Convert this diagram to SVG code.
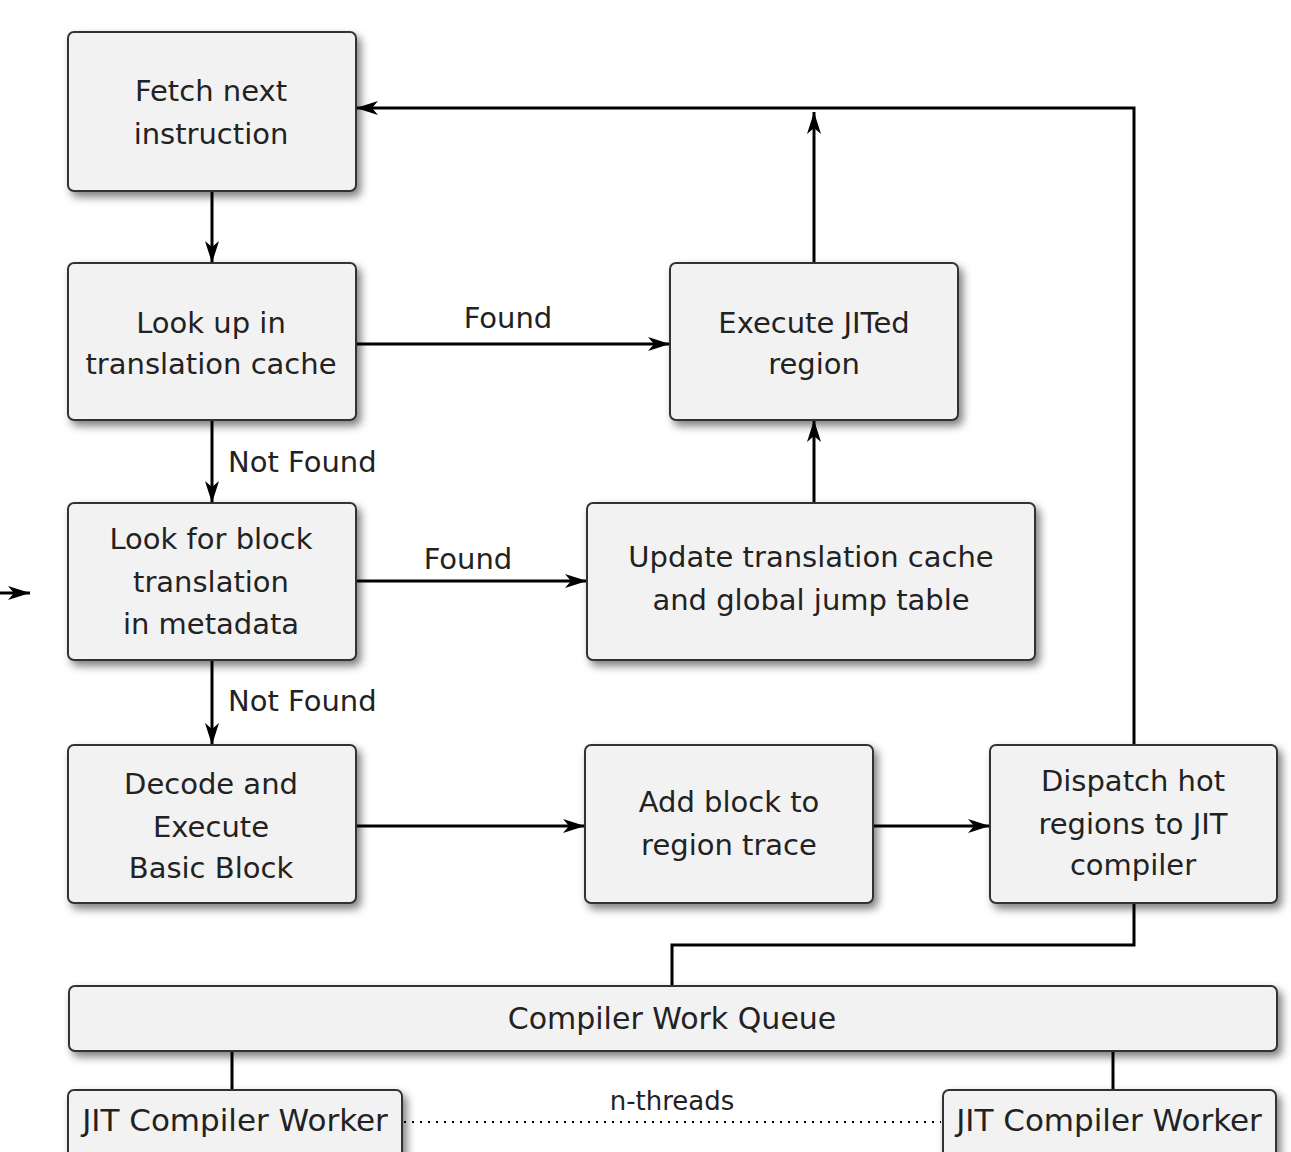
<svg xmlns="http://www.w3.org/2000/svg" width="1291" height="1152" viewBox="0 0 1291 1152">
<defs>
<filter id="sh" x="-10%" y="-10%" width="130%" height="140%">
<feDropShadow dx="4" dy="5" stdDeviation="4" flood-color="#000" flood-opacity="0.5"/>
</filter>
<marker id="ah" markerWidth="24" markerHeight="14" refX="22" refY="7" orient="auto" markerUnits="userSpaceOnUse">
<path d="M0,0 L22,7 L0,14 L6,7 Z" fill="#000"/>
</marker>
</defs>
<style>
.box{fill:#f2f2f2;stroke:#333;stroke-width:2;filter:url(#sh)}
text{font-family:"DejaVu Sans","Liberation Sans",sans-serif;font-size:29px;fill:#222;text-anchor:middle}
.lbl{text-anchor:start}
.c{fill:none;stroke:#000;stroke-width:3}
.a{marker-end:url(#ah)}
</style>
<rect width="1291" height="1152" fill="#fff"/>
<g id="connectors">
<path class="c a" d="M212,191 V263"/>
<path class="c a" d="M356,344 H670"/>
<path class="c a" d="M212,420 V503"/>
<path class="c a" d="M356,581 H587"/>
<path class="c a" d="M212,660 V745"/>
<path class="c a" d="M356,826 H585"/>
<path class="c a" d="M873,826 H990"/>
<path class="c a" d="M814,503 V420"/>
<path class="c a" d="M814,263 V112"/>
<path class="c a" d="M1134,745 V108 H356"/>
<path class="c" d="M1134,903 V945 H672 V986"/>
<path class="c" d="M232,1051 V1090"/>
<path class="c" d="M1113,1051 V1090"/>
<path class="c a" d="M0,593 H30"/>
<path d="M404,1122 H941" fill="none" stroke="#000" stroke-width="2" stroke-dasharray="2,6"/>
<text x="508" y="328">Found</text>
<text x="468" y="569">Found</text>
<text class="lbl" x="228" y="472">Not Found</text>
<text class="lbl" x="228" y="711">Not Found</text>
<text x="672" y="1110" style="font-size:26px">n-threads</text>
</g>
<g id="fetch"><rect class="box" x="68" y="32" width="288" height="159" rx="6"/><text x="211" y="101">Fetch next</text><text x="211" y="144">instruction</text></g>
<g id="lookup"><rect class="box" x="68" y="263" width="288" height="157" rx="6"/><text x="211" y="333">Look up in</text><text x="211" y="374">translation cache</text></g>
<g id="lookfor"><rect class="box" x="68" y="503" width="288" height="157" rx="6"/><text x="211" y="549">Look for block</text><text x="211" y="592">translation</text><text x="211" y="634">in metadata</text></g>
<g id="decode"><rect class="box" x="68" y="745" width="288" height="158" rx="6"/><text x="211" y="794">Decode and</text><text x="211" y="837">Execute</text><text x="211" y="878">Basic Block</text></g>
<g id="execute"><rect class="box" x="670" y="263" width="288" height="157" rx="6"/><text x="814" y="333">Execute JITed</text><text x="814" y="374">region</text></g>
<g id="update"><rect class="box" x="587" y="503" width="448" height="157" rx="6"/><text x="811" y="567">Update translation cache</text><text x="811" y="610">and global jump table</text></g>
<g id="addblock"><rect class="box" x="585" y="745" width="288" height="158" rx="6"/><text x="729" y="812">Add block to</text><text x="729" y="855">region trace</text></g>
<g id="dispatch"><rect class="box" x="990" y="745" width="287" height="158" rx="6"/><text x="1133" y="791">Dispatch hot</text><text x="1133" y="834">regions to JIT</text><text x="1133" y="875">compiler</text></g>
<g id="queue"><rect class="box" x="69" y="986" width="1208" height="65" rx="6"/><text x="672" y="1029" style="font-size:30px">Compiler Work Queue</text></g>
<g id="worker1"><rect class="box" x="68" y="1090" width="334" height="80" rx="6"/><text x="235" y="1131" style="font-size:31px">JIT Compiler Worker</text></g>
<g id="worker2"><rect class="box" x="943" y="1090" width="333" height="80" rx="6"/><text x="1109" y="1131" style="font-size:31px">JIT Compiler Worker</text></g>
</svg>
